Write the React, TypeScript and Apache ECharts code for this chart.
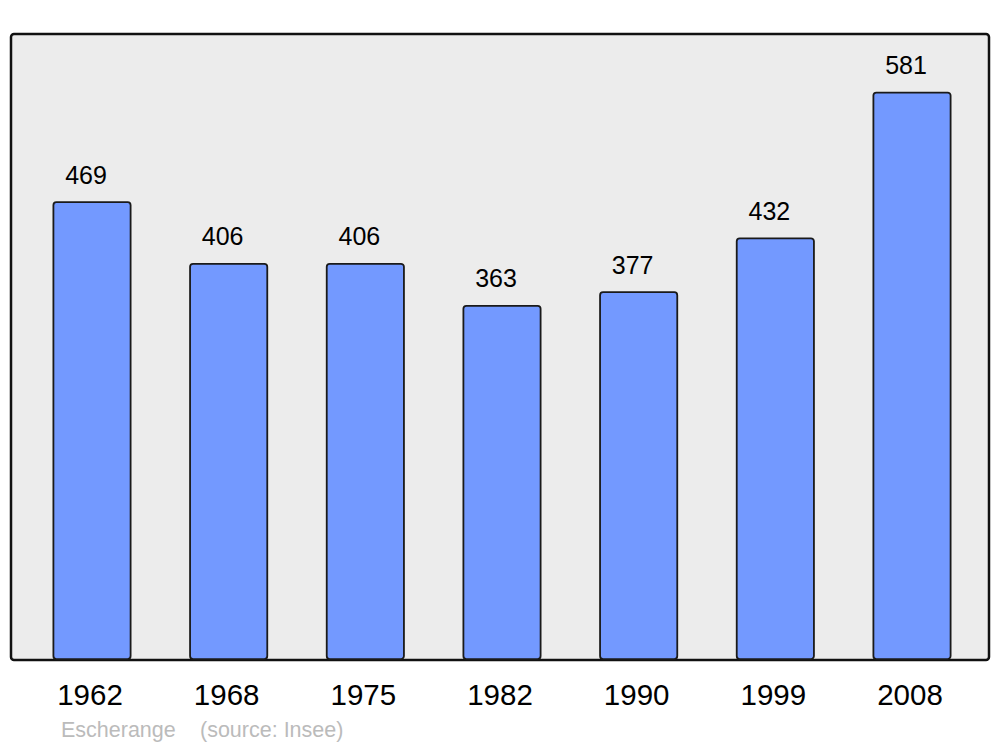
import React, { useEffect, useRef } from "react";
import * as echarts from "echarts";

const years = ["1962", "1968", "1975", "1982", "1990", "1999", "2008"];
const population = [469, 406, 406, 363, 377, 432, 581];
const commune = "Escherange";
const source = "(source: Insee)";

export default function App() {
  const ref = useRef<HTMLDivElement>(null);
  useEffect(() => {
    if (!ref.current) return;
    const chart = echarts.init(ref.current, undefined, { renderer: "svg" });
    chart.setOption({
      animation: false,
      backgroundColor: "#ffffff",
      textStyle: { fontFamily: "Liberation Sans" },
      grid: { left: 23.67, right: 19.67, top: 34, bottom: 87 },
      xAxis: {
        type: "category",
        data: years,
        axisLine: { show: false },
        axisTick: { show: false },
        axisLabel: {
          color: "#000",
          fontSize: 29.5,
          fontFamily: "Liberation Sans",
          margin: 19,
          padding: [0, 4, 0, 0],
        },
      },
      yAxis: {
        type: "value",
        min: 0,
        max: 640,
        show: false,
        splitLine: { show: false },
      },
      graphic: [
        {
          type: "rect",
          z: 0,
          shape: { x: 11, y: 34, width: 978, height: 626, r: 3 },
          style: { fill: "#ececec", stroke: "#111", lineWidth: 2.5 },
        },
        {
          type: "text",
          z: 10,
          x: 61,
          y: 730,
          style: {
            text: commune,
            fill: "#bbbbbb",
            font: "21.5px 'Liberation Sans'",
            textVerticalAlign: "middle",
          },
        },
        {
          type: "text",
          z: 10,
          x: 200,
          y: 730,
          style: {
            text: source,
            fill: "#bbbbbb",
            font: "21.5px 'Liberation Sans'",
            textVerticalAlign: "middle",
          },
        },
      ],
      series: [
        {
          type: "bar",
          data: population,
          barWidth: 79,
          z: 2,
          itemStyle: {
            color: "#7399ff",
            borderColor: "#1a1a1a",
            borderWidth: 1.8,
            borderRadius: 3,
          },
          label: {
            show: true,
            position: "top",
            distance: 14,
            offset: [-6, 0],
            color: "#000",
            fontSize: 25,
            fontFamily: "Liberation Sans",
          },
        },
      ],
    });
    return () => chart.dispose();
  }, []);
  return (
    <div
      ref={ref}
      style={{ position: "fixed", left: 0, top: 0, width: 1000, height: 747 }}
    />
  );
}
